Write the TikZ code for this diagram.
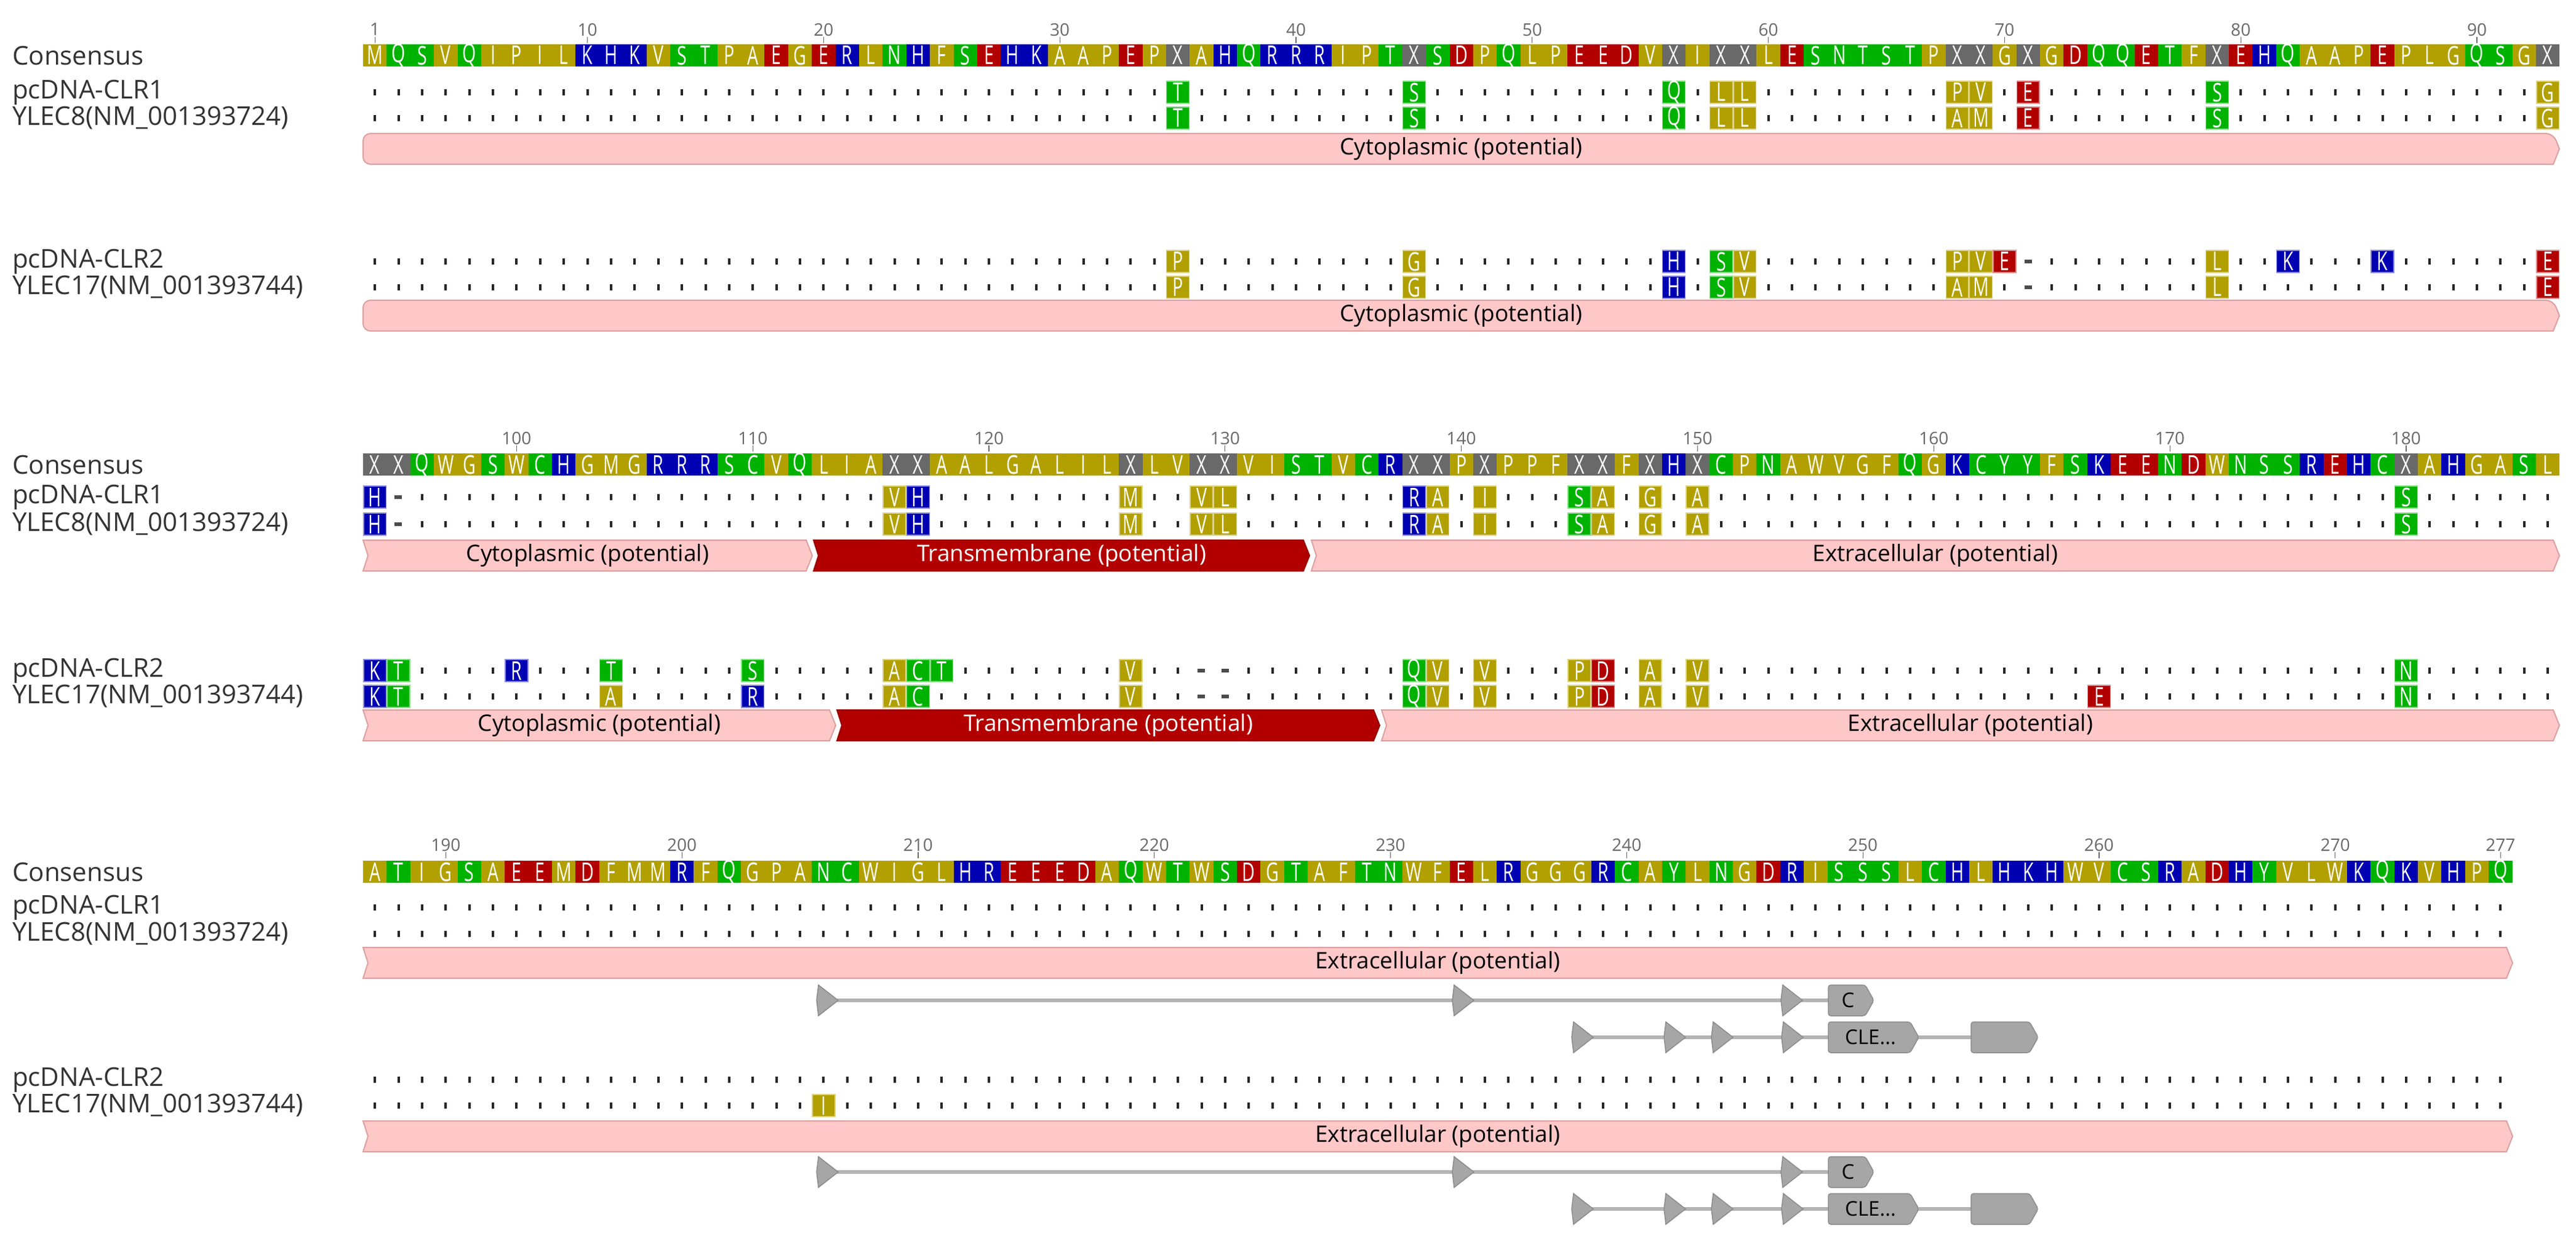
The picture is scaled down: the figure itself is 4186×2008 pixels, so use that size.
\documentclass[tikz,border=0pt]{standalone}
\usepackage{fontspec}
\setmainfont{Open Sans}
\newfontfamily\seqf{Open Sans}[FakeStretch=0.68]
\definecolor{olv}{RGB}{178,160,0}
\definecolor{grn}{RGB}{0,178,0}
\definecolor{blu}{RGB}{0,0,178}
\definecolor{rdd}{RGB}{178,0,0}
\definecolor{gry}{RGB}{105,105,105}
\definecolor{lbl}{RGB}{51,51,51}
\definecolor{barf}{RGB}{255,200,200}
\definecolor{bard}{RGB}{220,160,160}
\definecolor{tmf}{RGB}{178,0,0}
\definecolor{tmd}{RGB}{150,0,0}
\definecolor{fgf}{RGB}{166,166,166}
\definecolor{fgd}{RGB}{140,140,140}
\definecolor{fgl}{RGB}{180,180,180}
\colorlet{aaA}{olv}\colorlet{aaV}{olv}\colorlet{aaL}{olv}\colorlet{aaI}{olv}
\colorlet{aaM}{olv}\colorlet{aaP}{olv}\colorlet{aaF}{olv}\colorlet{aaW}{olv}\colorlet{aaG}{olv}
\colorlet{aaS}{grn}\colorlet{aaT}{grn}\colorlet{aaN}{grn}\colorlet{aaQ}{grn}\colorlet{aaC}{grn}\colorlet{aaY}{grn}
\colorlet{aaK}{blu}\colorlet{aaR}{blu}\colorlet{aaH}{blu}
\colorlet{aaD}{rdd}\colorlet{aaE}{rdd}
\colorlet{aaX}{gry}
\tikzset{
 res/.style={text=white,inner sep=0pt,font=\seqf\fontsize{42}{42}\selectfont},
 lab/.style={anchor=west,text=lbl,inner sep=0pt,font=\fontsize{42}{42}\selectfont},
 numl/.style={text=gry,inner sep=0pt,font=\fontsize{28}{28}\selectfont},
 bartxt/.style={inner sep=0pt,font=\fontsize{37}{37}\selectfont},
 fline/.style={draw=fgl,line width=6pt},
 fshape/.style={fill=fgf,draw=fgd,line width=1.5pt},
}
\newcommand\consrow[3]{%
 \foreach \c [count=\i] in {#3} {
  \fill[aa\c] ({590+(\i-1)*38.38},{#1-18}) rectangle ({590+\i*38.38},{#1+18});
  \node[res] (#2\i) at ({590+(\i-0.5)*38.38},#1) {\c};
 }}
\newcommand\dotrow[2]{%
 \foreach \i in {1,...,#2}
  \fill[black!85] ({590+(\i-0.5)*38.38-2},{#1-5}) rectangle ++(4,10);}
\newcommand\mism[4]{%
 \foreach \p/\c in {#3} {
  \pgfmathsetmacro\xx{590+(\p-#2)*38.38}
  \filldraw[fill=aa\c,draw=aa\c!45,line width=1.5pt] ({\xx+0.8},{#1-18}) rectangle ({\xx+37.6},{#1+18});
  \node[res] (#4\p) at ({\xx+19.19},#1) {\c};
 }}
\newcommand\gaps[3]{%
 \foreach \p in {#3} {
  \pgfmathsetmacro\xx{590+(\p-#2)*38.38}
  \fill[white] ({\xx+1},{#1-8}) rectangle ({\xx+37},{#1+8});
  \fill[black!70] ({\xx+13},{#1-3}) rectangle ({\xx+25},{#1+3});
 }}
\newcommand\ticks[3]{% y, start, list
 \foreach \n in {#3} {
  \pgfmathsetmacro\xx{590+(\n-#2+0.5)*38.38}
  \draw[gry,line width=1.2pt] (\xx,{#1+12}) -- (\xx,{#1+22});
  \node[numl] (n\n) at (\xx,#1) {\n};
 }}
\newcommand\rbar[6]{% name,y,x0,x1,style,text
 \filldraw[#5] (#4,#2) -- ({#4-10},{#2+25}) [rounded corners=12pt]-- (#3,{#2+25}) -- (#3,{#2-25}) -- ({#4-10},{#2-25}) [sharp corners]-- cycle;
 \node[bartxt] (#1) at ({(#3+#4)/2},#2) {#6};}
\newcommand\nbar[7]{% name,y,x0,x1,style,text,textcolor
 \filldraw[#5] (#4,#2) -- ({#4-10},{#2+25}) -- (#3,{#2+25}) -- ({#3+8},#2) -- (#3,{#2-25}) -- ({#4-10},{#2-25}) -- cycle;
 \node[bartxt,text=#7] (#1) at ({(#3+#4)/2},#2) {#6};}
\newcommand\tri[3]{% name,x,y
 \coordinate (#1) at (#2,#3);
 \filldraw[fshape] (#2,{#3-25}) -- ({#2+32},#3) -- (#2,{#3+25}) -- ({#2-3},#3) -- cycle;}
\newcommand\featbox[5]{% name,x0,x1,y,text
 \filldraw[fshape,rounded corners=4pt] (#2,{#4-25}) -- ({#3-14},{#4-25}) -- (#3,#4) -- ({#3-14},{#4+25}) -- (#2,{#4+25}) -- cycle;
 \node[inner sep=0pt,font=\fontsize{33}{33}\selectfont] (#1) at ({(#2+#3)/2-5},#4) {#5};}
\newcommand\featset[2]{% suffix, y of first line
 \pgfmathsetmacro\ya{#2}\pgfmathsetmacro\yb{#2+60}
 \coordinate (a#1) at (1345,\ya); \coordinate (b#1) at (2912,\ya); \coordinate (c#1) at (2975,\ya);
 \draw[fline] (a#1) -- (b#1) -- (c#1);
 \coordinate (d#1) at (2570,\yb); \coordinate (e#1) at (2990,\yb); \coordinate (f#1) at (3215,\yb);
 \draw[fline] (d#1) -- (e#1) -- (f#1);
 \tri{ta#1}{1330}{\ya}\tri{tb#1}{2363}{\ya}\tri{tc#1}{2897}{\ya}
 \featbox{bc#1}{2971}{3045}{\ya}{C}
 \tri{td#1}{2557}{\yb}\tri{te#1}{2707}{\yb}\tri{tf#1}{2784}{\yb}\tri{tg#1}{2898}{\yb}
 \featbox{bd#1}{2971}{3118}{\yb}{CLE...}
 \featbox{be#1}{3203}{3312}{\yb}{}
}
\begin{document}
\begin{tikzpicture}[x=1pt,y=-1pt]
\useasboundingbox (0,0) rectangle (4186,2008);
\fill[white] (0,0) rectangle (4186,2008);
% ---------- block 1 ----------
\ticks{48}{1}{1,10,20,30,40,50,60,70,80,90}
\consrow{90}{ca}{M,Q,S,V,Q,I,P,I,L,K,H,K,V,S,T,P,A,E,G,E,R,L,N,H,F,S,E,H,K,A,A,P,E,P,X,A,H,Q,R,R,R,I,P,T,X,S,D,P,Q,L,P,E,E,D,V,X,I,X,X,L,E,S,N,T,S,T,P,X,X,G,X,G,D,Q,Q,E,T,F,X,E,H,Q,A,A,P,E,P,L,G,Q,S,G,X}
\node[lab] (l1) at (20,90) {Consensus};
\node[lab] (l2) at (20,150) {pcDNA-CLR1};
\node[lab] (l3) at (20,192) {YLEC8(NM\_001393724)};
\dotrow{150}{93}\dotrow{192}{93}
\mism{150}{1}{35/T,45/S,56/Q,58/L,59/L,68/P,69/V,71/E,79/S,93/G}{ma}
\mism{192}{1}{35/T,45/S,56/Q,58/L,59/L,68/A,69/M,71/E,79/S,93/G}{mb}
\rbar{fa}{242}{590}{4159}{fill=barf,draw=bard,line width=2pt}{Cytoplasmic (potential)}
\node[lab] (l4) at (20,425) {pcDNA-CLR2};
\node[lab] (l5) at (20,467) {YLEC17(NM\_001393744)};
\dotrow{425}{93}\dotrow{467}{93}
\gaps{425}{1}{71}\gaps{467}{1}{71}
\mism{425}{1}{35/P,45/G,56/H,58/S,59/V,68/P,69/V,70/E,79/L,82/K,86/K,93/E}{mc}
\mism{467}{1}{35/P,45/G,56/H,58/S,59/V,68/A,69/M,79/L,93/E}{md}
\rbar{fb}{513}{590}{4159}{fill=barf,draw=bard,line width=2pt}{Cytoplasmic (potential)}
% ---------- block 2 ----------
\ticks{712}{94}{100,110,120,130,140,150,160,170,180}
\consrow{755}{cb}{X,X,Q,W,G,S,W,C,H,G,M,G,R,R,R,S,C,V,Q,L,I,A,X,X,A,A,L,G,A,L,I,L,X,L,V,X,X,V,I,S,T,V,C,R,X,X,P,X,P,P,F,X,X,F,X,H,X,C,P,N,A,W,V,G,F,Q,G,K,C,Y,Y,F,S,K,E,E,N,D,W,N,S,S,R,E,H,C,X,A,H,G,A,S,L}
\node[lab] (l6) at (20,755) {Consensus};
\node[lab] (l7) at (20,808) {pcDNA-CLR1};
\node[lab] (l8) at (20,852) {YLEC8(NM\_001393724)};
\dotrow{808}{93}\dotrow{852}{93}
\gaps{808}{94}{95}\gaps{852}{94}{95}
\mism{808}{94}{94/H,116/V,117/H,126/M,129/V,130/L,138/R,139/A,141/I,145/S,146/A,148/G,150/A,180/S}{me}
\mism{852}{94}{94/H,116/V,117/H,126/M,129/V,130/L,138/R,139/A,141/I,145/S,146/A,148/G,150/A,180/S}{mf}
\nbar{fc}{903}{590}{1320}{fill=barf,draw=bard,line width=2pt}{Cytoplasmic (potential)}{black}
\nbar{fd}{903}{1322}{2128}{fill=tmf,draw=tmd,line width=2pt}{Transmembrane (potential)}{white}
\nbar{fe}{903}{2131}{4159}{fill=barf,draw=bard,line width=2pt}{Extracellular (potential)}{black}
\node[lab] (l9) at (20,1090) {pcDNA-CLR2};
\node[lab] (l10) at (20,1132) {YLEC17(NM\_001393744)};
\dotrow{1090}{93}\dotrow{1132}{93}
\gaps{1090}{94}{129,130}\gaps{1132}{94}{129,130}
\mism{1090}{94}{94/K,95/T,100/R,104/T,110/S,116/A,117/C,118/T,126/V,138/Q,139/V,141/V,145/P,146/D,148/A,150/V,180/N}{mg}
\mism{1132}{94}{94/K,95/T,104/A,110/R,116/A,117/C,126/V,138/Q,139/V,141/V,145/P,146/D,148/A,150/V,167/E,180/N}{mh}
\nbar{ff}{1179}{590}{1358}{fill=barf,draw=bard,line width=2pt}{Cytoplasmic (potential)}{black}
\nbar{fg}{1179}{1360}{2242}{fill=tmf,draw=tmd,line width=2pt}{Transmembrane (potential)}{white}
\nbar{fh}{1179}{2245}{4159}{fill=barf,draw=bard,line width=2pt}{Extracellular (potential)}{black}
% ---------- block 3 ----------
\ticks{1373}{187}{190,200,210,220,230,240,250,260,270,277}
\consrow{1417}{cc}{A,T,I,G,S,A,E,E,M,D,F,M,M,R,F,Q,G,P,A,N,C,W,I,G,L,H,R,E,E,E,D,A,Q,W,T,W,S,D,G,T,A,F,T,N,W,F,E,L,R,G,G,G,R,C,A,Y,L,N,G,D,R,I,S,S,S,L,C,H,L,H,K,H,W,V,C,S,R,A,D,H,Y,V,L,W,K,Q,K,V,H,P,Q}
\node[lab] (l11) at (20,1417) {Consensus};
\node[lab] (l12) at (20,1475) {pcDNA-CLR1};
\node[lab] (l13) at (20,1518) {YLEC8(NM\_001393724)};
\dotrow{1475}{91}\dotrow{1518}{91}
\nbar{fi}{1565}{590}{4083}{fill=barf,draw=bard,line width=2pt}{Extracellular (potential)}{black}
\featset{1}{1626}
\node[lab] (l14) at (20,1755) {pcDNA-CLR2};
\node[lab] (l15) at (20,1797) {YLEC17(NM\_001393744)};
\dotrow{1755}{91}\dotrow{1797}{91}
\mism{1797}{187}{206/I}{mi}
\nbar{fj}{1847}{590}{4083}{fill=barf,draw=bard,line width=2pt}{Extracellular (potential)}{black}
\featset{2}{1905}
\end{tikzpicture}
\end{document}
